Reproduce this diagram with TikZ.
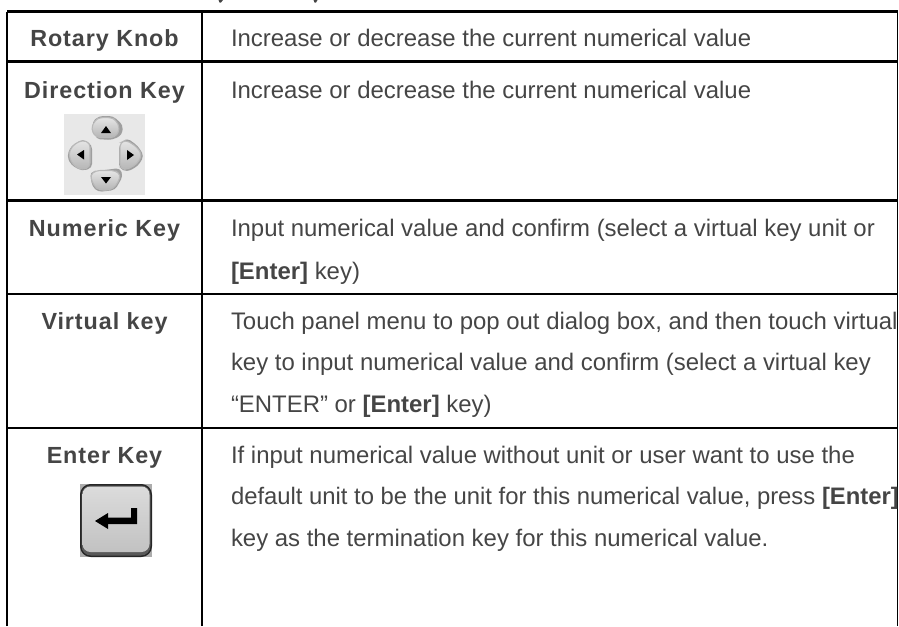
\documentclass[tikz,border=0pt]{standalone}
\usepackage{fontspec}
\setmainfont{Liberation Sans}
\newfontfamily\labelfont[LetterSpace=4,BoldFont={Liberation Sans Bold}]{Liberation Sans}
\definecolor{txt}{HTML}{454545}
\tikzset{
  rule/.style={line width=1.6pt,black},
  thinrule/.style={line width=1.2pt,black},
  cell/.style={anchor=base west,inner sep=0pt,outer sep=0pt,text=txt,font=\fontsize{17.95}{20}\selectfont},
  head/.style={anchor=base,inner sep=0pt,outer sep=0pt,text=txt,font=\fontsize{17.5}{20}\selectfont\labelfont\bfseries},
  dkey/.style={draw=gray!55,line width=0.8pt,top color=gray!20,bottom color=gray!58,rounded corners=3pt},
  dshadow/.style={fill=gray!75,draw=none,rounded corners=3pt},
  tri/.style={fill=black,draw=none},
}
\begin{document}
\begin{tikzpicture}[x=0.75pt,y=-0.75pt]
\useasboundingbox (0,0) rectangle (899,626);
\coordinate (tl) at (7,11.5);
\coordinate (tc) at (202,11.5);
\coordinate (tr) at (897.5,11.5);
\coordinate (bl) at (7,626);
\coordinate (bc) at (202,626);
\coordinate (br) at (897.5,626);
% clipped descenders of the line above the table
\fill[txt] (218.5,0) -- (223,0) -- (221,2.5) -- (219.5,2.5) -- cycle;
\fill[txt] (313.5,0) -- (317.5,0) -- (316,2.5) -- (314.5,2.5) -- cycle;
% rules
\draw[rule] (tl) -- (tr);
\draw[rule] (bl) -- (tl);
\draw[rule] (bc) -- (tc);
\draw[thinrule] (br) -- (tr);
\foreach \y in {61.5,200.5,294,428}{\draw[rule] (7,\y) -- (897.5,\y);}
% left column
\node[head] (h1) at (104.5,46.3) {Rotary Knob};
\node[head] (h2) at (104.5,98.3) {Direction Key};
\node[head] (h3) at (104.5,236.3) {Numeric Key};
\node[head] (h4) at (104.5,329.3) {Virtual key};
\node[head] (h5) at (104.5,463.3) {Enter Key};
% right column
\node[cell] (r1) at (231,46.3) {Increase or decrease the current numerical value};
\node[cell] (r2) at (231,98.3) {Increase or decrease the current numerical value};
\node[cell] (r3a) at (231,236.3) {Input numerical value and confirm (select a virtual key unit or};
\node[cell] (r3b) at (231,279.3) {\textbf{[Enter]} key)};
\node[cell] (r4a) at (231,329.3) {Touch panel menu to pop out dialog box, and then touch virtual};
\node[cell] (r4b) at (231,370) {key to input numerical value and confirm (select a virtual key};
\node[cell] (r4c) at (231,412) {“ENTER” or \textbf{[Enter]} key)};
\node[cell] (r5a) at (231,463.3) {If input numerical value without unit or user want to use the};
\node[cell,font=\fontsize{17.88}{20}\selectfont] (r5b) at (231,504.3) {default unit to be the unit for this numerical value, press \textbf{[Enter]}};
\node[cell] (r5c) at (231,546.3) {key as the termination key for this numerical value.};
% direction key picture
\fill[gray!18] (64,114) rectangle (145,195);
\fill[dshadow] (92,122) -- (99,116) -- (113,116) -- (123,125) -- (122,135) -- (112,140) -- (96,139) -- cycle;
\fill[dshadow] (90,172) -- (120,168) -- (123,176) -- (115,190) -- (98,192) -- (92,186) -- cycle;
\fill[dshadow] (67,156) -- (71,146) -- (83,139) -- (92,145) -- (92,168) -- (82,171) -- (71,165) -- cycle;
\fill[dshadow] (119,145) -- (127,138) -- (138,146) -- (144,156) -- (138,166) -- (127,172) -- (119,168) -- cycle;
\draw[dkey] (91,129) -- (95,120) -- (100,117.5) -- (111,117.5) -- (116,120) -- (120,129) -- (115,137.5) -- (96,137.5) -- cycle;
\draw[dkey] (90,175) -- (96,170.5) -- (115,170.5) -- (121,175) -- (116,186) -- (110,190) -- (99,190) -- (94,186) -- cycle;
\draw[dkey] (68.5,155) -- (72,146) -- (82,140) -- (90,143) -- (90,167) -- (82,170) -- (73,165) -- cycle;
\draw[dkey] (120,143) -- (126,140) -- (137,147) -- (142,155) -- (137,164) -- (126,170) -- (120,167) -- cycle;
\fill[tri] (106,126) -- (111,133) -- (101,133) -- cycle;
\fill[tri] (106,183.5) -- (111,177) -- (101,177) -- cycle;
\fill[tri] (77,154.5) -- (84,150) -- (84,159.5) -- cycle;
\fill[tri] (134,155) -- (127,150) -- (127,160) -- cycle;
% enter key picture
\fill[gray!65] (80,484) rectangle (152,557);
\fill[black!85,rounded corners=8pt] (80,484) rectangle (152,557);
\fill[gray!70!black,rounded corners=7pt] (81.5,485.5) rectangle (150.5,555.5);
\shade[top color=gray!28,bottom color=gray!48,rounded corners=6pt] (82.5,486.5) rectangle (149.5,552);
\fill[black] (131,508) -- (137,508) -- (137,524) -- (105,524) -- (105,517.5) -- (131,517.5) -- cycle;
\fill[black] (95,521) -- (108,513) -- (108,529) -- cycle;
\end{tikzpicture}
\end{document}
